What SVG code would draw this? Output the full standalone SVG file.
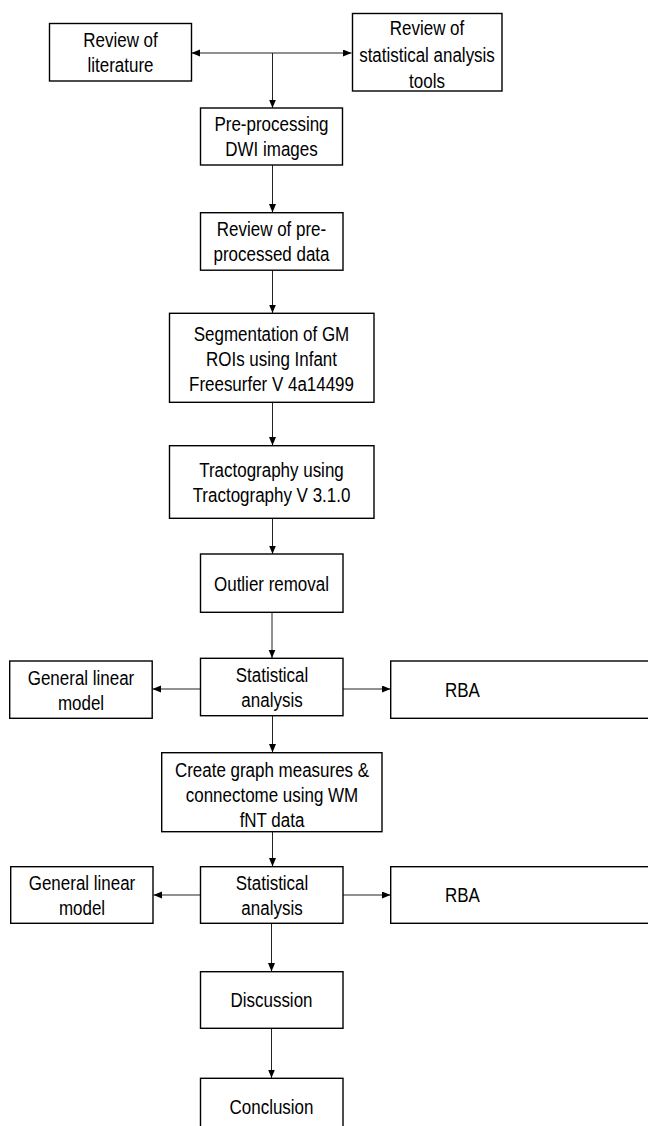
<svg xmlns="http://www.w3.org/2000/svg" width="648" height="1126" viewBox="0 0 648 1126">
<defs>
<marker id="ah" markerUnits="userSpaceOnUse" markerWidth="9" markerHeight="8" refX="8.5" refY="3.5" orient="auto-start-reverse">
<path d="M0,0 L8.5,3.5 L0,7 z" fill="#000"/>
</marker>
<style>
.box{fill:#fff;stroke:#000;stroke-width:1.4}
.t{font-family:"Liberation Sans",Arial,sans-serif;font-size:19.5px;fill:#000;text-anchor:middle}
.c{fill:none;stroke:#222;stroke-width:1}
</style>
</defs>
<rect width="648" height="1126" fill="#fff"/>
<g id="connectors">
<line class="c" x1="191.5" y1="53" x2="351.5" y2="53" marker-start="url(#ah)" marker-end="url(#ah)"/>
<line class="c" x1="272.5" y1="53" x2="272.5" y2="108" marker-end="url(#ah)"/>
<line class="c" x1="272.5" y1="165" x2="272.5" y2="212.5" marker-end="url(#ah)"/>
<line class="c" x1="272.5" y1="270" x2="272.5" y2="313" marker-end="url(#ah)"/>
<line class="c" x1="272.5" y1="402" x2="272.5" y2="445.5" marker-end="url(#ah)"/>
<line class="c" x1="272.5" y1="518" x2="272.5" y2="554" marker-end="url(#ah)"/>
<line class="c" x1="272" y1="612" x2="272" y2="658" marker-end="url(#ah)"/>
<line class="c" x1="200" y1="689" x2="152.5" y2="689" marker-end="url(#ah)"/>
<line class="c" x1="343" y1="689" x2="390.5" y2="689" marker-end="url(#ah)"/>
<line class="c" x1="272.5" y1="716" x2="272.5" y2="752.5" marker-end="url(#ah)"/>
<line class="c" x1="272.5" y1="831.5" x2="272.5" y2="866.5" marker-end="url(#ah)"/>
<line class="c" x1="200" y1="895" x2="153.5" y2="895" marker-end="url(#ah)"/>
<line class="c" x1="343" y1="895" x2="390.5" y2="895" marker-end="url(#ah)"/>
<line class="c" x1="271.5" y1="923.5" x2="271.5" y2="971.5" marker-end="url(#ah)"/>
<line class="c" x1="271.5" y1="1028.5" x2="271.5" y2="1078" marker-end="url(#ah)"/>
</g>
<g id="lit">
<rect class="box" x="49.5" y="23.5" width="142" height="57.5"/>
<text class="t" transform="translate(120.5,46.5) scale(0.87,1)">Review of</text>
<text class="t" transform="translate(120.5,71.5) scale(0.87,1)">literature</text>
</g>
<g id="stattools">
<rect class="box" x="352.5" y="13.5" width="149.5" height="77.5"/>
<text class="t" transform="translate(427,35) scale(0.87,1)">Review of</text>
<text class="t" transform="translate(427,61.5) scale(0.87,1)">statistical analysis</text>
<text class="t" transform="translate(427,88) scale(0.87,1)">tools</text>
</g>
<g id="preproc">
<rect class="box" x="200.5" y="108" width="142" height="57"/>
<text class="t" transform="translate(271.5,131) scale(0.87,1)">Pre-processing</text>
<text class="t" transform="translate(271.5,156) scale(0.87,1)">DWI images</text>
</g>
<g id="review">
<rect class="box" x="200.5" y="212.7" width="142.5" height="57.5"/>
<text class="t" transform="translate(271.5,236) scale(0.87,1)">Review of pre-</text>
<text class="t" transform="translate(271.5,261) scale(0.87,1)">processed data</text>
</g>
<g id="segment">
<rect class="box" x="169.5" y="313.3" width="204.5" height="89"/>
<text class="t" transform="translate(271.5,340.5) scale(0.87,1)">Segmentation of GM</text>
<text class="t" transform="translate(271.5,365.5) scale(0.87,1)">ROIs using Infant</text>
<text class="t" transform="translate(271.5,390.5) scale(0.87,1)">Freesurfer V 4a14499</text>
</g>
<g id="tracto">
<rect class="box" x="169.5" y="445.7" width="204.5" height="72.6"/>
<text class="t" transform="translate(271.5,477) scale(0.87,1)">Tractography using</text>
<text class="t" transform="translate(271.5,502) scale(0.87,1)">Tractography V 3.1.0</text>
</g>
<g id="outlier">
<rect class="box" x="200.5" y="554" width="142.5" height="58.3"/>
<text class="t" transform="translate(271.5,590.5) scale(0.87,1)">Outlier removal</text>
</g>
<g id="stat1">
<rect class="box" x="200.5" y="658.3" width="142.5" height="57.4"/>
<text class="t" transform="translate(272,682) scale(0.87,1)">Statistical</text>
<text class="t" transform="translate(272,707) scale(0.87,1)">analysis</text>
</g>
<g id="glm1">
<rect class="box" x="9.7" y="661" width="142.5" height="57.3"/>
<text class="t" transform="translate(81,685) scale(0.87,1)">General linear</text>
<text class="t" transform="translate(81,710) scale(0.87,1)">model</text>
</g>
<g id="rba1">
<rect class="box" x="390.7" y="661" width="270" height="57.3"/>
<text class="t" transform="translate(462.5,696.5) scale(0.87,1)">RBA</text>
</g>
<g id="graph">
<rect class="box" x="161.7" y="752.7" width="220.3" height="79"/>
<text class="t" transform="translate(272,776.5) scale(0.87,1)">Create graph measures &amp;</text>
<text class="t" transform="translate(272,801.5) scale(0.87,1)">connectome using WM</text>
<text class="t" transform="translate(272,826.5) scale(0.87,1)">fNT data</text>
</g>
<g id="stat2">
<rect class="box" x="200.5" y="866.7" width="142.5" height="56.6"/>
<text class="t" transform="translate(272,890) scale(0.87,1)">Statistical</text>
<text class="t" transform="translate(272,915) scale(0.87,1)">analysis</text>
</g>
<g id="glm2">
<rect class="box" x="10.7" y="866.7" width="142.3" height="56.6"/>
<text class="t" transform="translate(82,890) scale(0.87,1)">General linear</text>
<text class="t" transform="translate(82,915) scale(0.87,1)">model</text>
</g>
<g id="rba2">
<rect class="box" x="390.7" y="866.7" width="270" height="56.6"/>
<text class="t" transform="translate(462.5,902) scale(0.87,1)">RBA</text>
</g>
<g id="discussion">
<rect class="box" x="200.5" y="971.7" width="142.5" height="56.6"/>
<text class="t" transform="translate(271.5,1007) scale(0.87,1)">Discussion</text>
</g>
<g id="conclusion">
<rect class="box" x="200.5" y="1078.3" width="142.5" height="60"/>
<text class="t" transform="translate(271.5,1114) scale(0.87,1)">Conclusion</text>
</g>
</svg>
